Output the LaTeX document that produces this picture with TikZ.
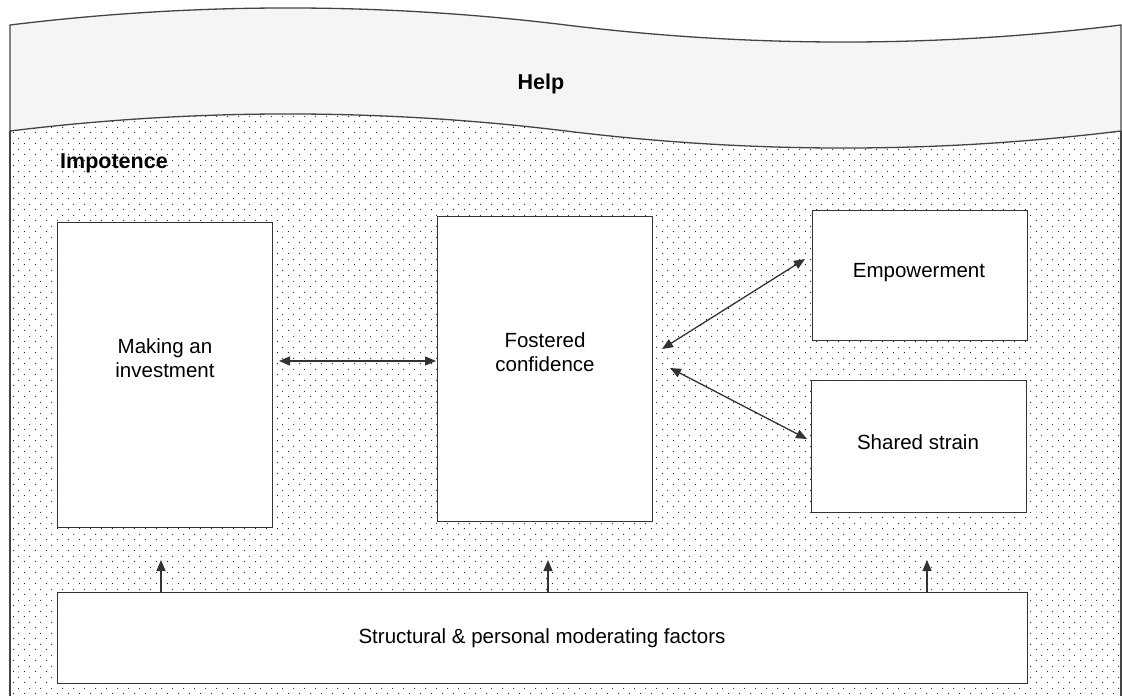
\documentclass[tikz,border=0pt]{standalone}
\usepackage{fontspec}
\setmainfont{Liberation Sans}
\usetikzlibrary{arrows.meta,patterns.meta}
\pgfdeclarepattern{name=stagdots, type=uncolored,
  bottom left={\pgfpoint{0pt}{0pt}}, top right={\pgfpoint{11pt}{11pt}},
  tile size={\pgfpoint{11pt}{11pt}},
  code={\pgfpathcircle{\pgfpoint{2.75pt}{2.75pt}}{0.7pt}\pgfpathcircle{\pgfpoint{8.25pt}{8.25pt}}{0.7pt}\pgfusepath{fill}}}
\definecolor{bandgray}{HTML}{F5F5F5}
\definecolor{edgegray}{HTML}{444444}
\definecolor{boxline}{HTML}{333333}
\begin{document}
\begin{tikzpicture}[x=1pt,y=-1pt,
  card/.style={draw=boxline, line width=1.4pt, fill=white, rectangle, inner sep=0pt, anchor=north west},
  txt/.style={font=\fontsize{20.5}{23.5}\selectfont, align=center, text=black, inner sep=0pt},
  btxt/.style={font=\fontsize{21.5}{24}\selectfont\bfseries, text=black, inner sep=0pt},
  link/.style={draw=boxline, line width=1.3pt, {Triangle[length=11pt,width=9pt]}-{Triangle[length=11pt,width=9pt]}},
  uplink/.style={draw=boxline, line width=1.3pt, -{Triangle[length=11pt,width=9pt]}}]
\useasboundingbox (0,0) rectangle (1122,696);
\clip (0,0) rectangle (1122,696);
\fill[white] (0,0) rectangle (1122,696);
% dotted region
\path[pattern=stagdots, pattern color=black!85]
  (10,131) .. controls (195.3,108.3) and (380.7,108.3) .. (566,131)
  .. controls (751,153.7) and (936,153.7) .. (1121,131) -- (1121,720) -- (10,720) -- cycle;
\draw[edgegray, line width=1.2pt] (10,131) -- (10,720);
\draw[edgegray, line width=1.2pt] (1121,131) -- (1121,720);
% band
\path[fill=bandgray, draw=edgegray, line width=1.3pt]
  (10,25) .. controls (195.3,2.3) and (380.7,2.3) .. (566,25)
  .. controls (751,47.7) and (936,47.7) .. (1121,25) -- (1121,131)
  .. controls (936,153.7) and (751,153.7) .. (566,131)
  .. controls (380.7,108.3) and (195.3,108.3) .. (10,131) -- cycle;
\node[btxt] (help) at (541,84) {Help};
\node[btxt, anchor=west] (impotence) at (60,163) {Impotence};
% boxes
\node[card, minimum width=215pt, minimum height=305pt] (invest) at (57,222) {};
\node[card, minimum width=215pt, minimum height=305pt] (foster) at (437,216) {};
\node[card, minimum width=215pt, minimum height=130pt] (empower) at (812,210) {};
\node[card, minimum width=215pt, minimum height=132pt] (strain) at (811,380) {};
\node[card, minimum width=970pt, minimum height=91pt] (factors) at (57,592) {};
\node[txt] (investtxt) at (165,358) {Making an\\investment};
\node[txt] (fostertxt) at (545,352) {Fostered\\confidence};
\node[txt] (empowertxt) at (919,273) {Empowerment};
\node[txt] (straintxt) at (918,442) {Shared strain};
\node[txt] (factorstxt) at (542,638) {Structural \& personal moderating factors};
% connectors
\coordinate (a1) at (279,361);
\coordinate (a2) at (436,361);
\draw[link] (a1) -- (a2);
\coordinate (b1) at (662,349);
\coordinate (b2) at (805,259);
\draw[link] (b1) -- (b2);
\coordinate (c1) at (670,368);
\coordinate (c2) at (807,439);
\draw[link] (c1) -- (c2);
\coordinate (u1) at (161,560);
\coordinate (u2) at (548,560);
\coordinate (u3) at (927,560);
\draw[uplink] (factors.north west -| u1) -- (u1);
\draw[uplink] (factors.north west -| u2) -- (u2);
\draw[uplink] (factors.north west -| u3) -- (u3);
\end{tikzpicture}
\end{document}
